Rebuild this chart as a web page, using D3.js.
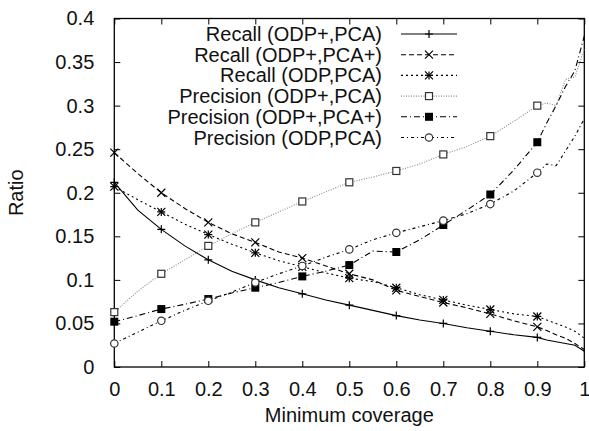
<!DOCTYPE html>
<html>
  <head>
    <style>
      body, html { margin: 0; padding: 0; background: #fff; }
      text { font-family: "Liberation Sans", Arial, sans-serif; fill: #111; }
    </style>
    <script src="https://d3js.org/d3.v7.min.js"></script>
    <title>coverage</title>
  </head>
  <body>
    <svg id="chart" width="589" height="431"></svg>
    <script>
      // minimum coverage values (x)
      var coverage = [0, 0.05, 0.1, 0.15, 0.2, 0.25, 0.3, 0.35, 0.4, 0.45, 0.5, 0.55,
        0.6, 0.65, 0.7, 0.75, 0.8, 0.85, 0.9, 0.92, 0.94, 0.96, 0.98, 1.0];

      var recallOdpPlusPca = [0.212, 0.180, 0.158, 0.139, 0.123, 0.110, 0.100, 0.091, 0.084, 0.077,
        0.071, 0.065, 0.059, 0.054, 0.050, 0.045, 0.041, 0.037, 0.034, 0.031, 0.029, 0.027, 0.025, 0.018];
      var recallOdpPlusPcaPlus = [0.246, 0.222, 0.200, 0.182, 0.166, 0.153, 0.143, 0.132, 0.125, 0.116,
        0.107, 0.100, 0.088, 0.081, 0.074, 0.068, 0.061, 0.053, 0.046, 0.042, 0.037, 0.033, 0.027, 0.020];
      var recallOdpPca = [0.207, 0.192, 0.178, 0.164, 0.152, 0.141, 0.131, 0.122, 0.115, 0.108,
        0.102, 0.098, 0.091, 0.083, 0.077, 0.071, 0.066, 0.061, 0.058, 0.054, 0.050, 0.046, 0.041, 0.033];
      var precOdpPlusPca = [0.063, 0.087, 0.107, 0.123, 0.139, 0.153, 0.166, 0.178, 0.190, 0.201,
        0.212, 0.218, 0.225, 0.233, 0.244, 0.253, 0.265, 0.282, 0.300, 0.303, 0.300, 0.330, 0.333, 0.365];
      var precOdpPlusPcaPlus = [0.052, 0.059, 0.0665, 0.072, 0.078, 0.085, 0.091, 0.097, 0.104, 0.110,
        0.117, 0.133, 0.132, 0.146, 0.163, 0.180, 0.198, 0.226, 0.258, 0.280, 0.300, 0.322, 0.340, 0.380];
      var precOdpPca = [0.027, 0.040, 0.053, 0.065, 0.076, 0.086, 0.097, 0.107, 0.116, 0.126,
        0.135, 0.146, 0.154, 0.161, 0.168, 0.176, 0.187, 0.202, 0.223, 0.233, 0.231, 0.248, 0.265, 0.285];

      var xTicks = [0, 0.1, 0.2, 0.3, 0.4, 0.5, 0.6, 0.7, 0.8, 0.9, 1];
      var yTicks = [0, 0.05, 0.1, 0.15, 0.2, 0.25, 0.3, 0.35, 0.4];

      var seriesNames = ["Recall (ODP+,PCA)", "Recall (ODP+,PCA+)", "Recall (ODP,PCA)",
        "Precision (ODP+,PCA)", "Precision (ODP+,PCA+)", "Precision (ODP,PCA)"];
      var seriesValues = [recallOdpPlusPca, recallOdpPlusPcaPlus, recallOdpPca,
        precOdpPlusPca, precOdpPlusPcaPlus, precOdpPca];

      // line styles, gnuplot-like
      var styles = [
        { dash: null, color: "#000", marker: "plus" },
        { dash: "5,3", color: "#000", marker: "cross" },
        { dash: "2,3", color: "#000", marker: "star" },
        { dash: "1,1.5", color: "#888", marker: "square" },
        { dash: "6,3,1,3", color: "#000", marker: "filled" },
        { dash: "3,3,1,3", color: "#000", marker: "circle" }
      ];

      var plotLeft = 114.3, plotRight = 584.3, plotTop = 18.5, plotBottom = 367;
      var fontSize = "20px";
      var svg = d3.select("#chart");

      var xScale = d3.scaleLinear().domain([0, 1]).range([plotLeft, plotRight]);
      var yScale = d3.scaleLinear().domain([0, 0.4]).range([plotBottom, plotTop]);

      // axes, ticks inward and mirrored
      function styleAxis(g) {
        g.select(".domain").remove();
        g.selectAll("line").attr("stroke", "#000").attr("stroke-width", 1);
        g.selectAll("text").style("font-size", fontSize).attr("fill", "#111");
      }
      svg.append("g")
        .attr("transform", "translate(0," + plotBottom + ")")
        .call(d3.axisBottom(xScale).tickValues(xTicks).tickSizeInner(-6).tickSizeOuter(0)
          .tickPadding(15).tickFormat(d3.format("")))
        .call(styleAxis);
      svg.append("g")
        .attr("transform", "translate(0," + plotTop + ")")
        .call(d3.axisTop(xScale).tickValues(xTicks).tickSizeInner(-6).tickSizeOuter(0)
          .tickFormat(""))
        .call(styleAxis);
      svg.append("g")
        .attr("transform", "translate(" + plotLeft + ",0)")
        .call(d3.axisLeft(yScale).tickValues(yTicks).tickSizeInner(-6).tickSizeOuter(0)
          .tickPadding(20).tickFormat(d3.format("")))
        .call(styleAxis);
      svg.append("g")
        .attr("transform", "translate(" + plotRight + ",0)")
        .call(d3.axisRight(yScale).tickValues(yTicks).tickSizeInner(-6).tickSizeOuter(0)
          .tickFormat(""))
        .call(styleAxis);

      svg.append("rect")
        .attr("x", plotLeft).attr("y", plotTop)
        .attr("width", plotRight - plotLeft).attr("height", plotBottom - plotTop)
        .attr("fill", "none").attr("stroke", "#000").attr("stroke-width", 1.3);

      svg.append("text")
        .attr("x", (plotLeft + plotRight) / 2).attr("y", 422)
        .attr("text-anchor", "middle")
        .style("font-size", fontSize)
        .text("Minimum coverage");
      svg.append("text")
        .attr("transform", "translate(23," + (plotTop + plotBottom) / 2 + ") rotate(-90)")
        .attr("text-anchor", "middle")
        .style("font-size", fontSize)
        .text("Ratio");

      function drawMarker(g, type, x, y, color) {
        var s = 4;
        if (type == "plus" || type == "star") {
          g.append("path").attr("d", "M" + (x - s) + "," + y + "H" + (x + s) + "M" + x + "," + (y - s) + "V" + (y + s))
            .attr("stroke", color).attr("stroke-width", 1.2);
        }
        if (type == "cross" || type == "star") {
          g.append("path").attr("d", "M" + (x - s) + "," + (y - s) + "L" + (x + s) + "," + (y + s) +
            "M" + (x - s) + "," + (y + s) + "L" + (x + s) + "," + (y - s))
            .attr("stroke", color).attr("stroke-width", 1.2);
        }
        if (type == "square") {
          g.append("rect").attr("x", x - 3.5).attr("y", y - 3.5).attr("width", 7).attr("height", 7)
            .attr("fill", "#fff").attr("stroke", "#333").attr("stroke-width", 1.2);
        }
        if (type == "filled") {
          g.append("rect").attr("x", x - 4).attr("y", y - 4).attr("width", 8).attr("height", 8)
            .attr("fill", "#000");
        }
        if (type == "circle") {
          g.append("circle").attr("cx", x).attr("cy", y).attr("r", 3.7)
            .attr("fill", "#fff").attr("stroke", "#333").attr("stroke-width", 1.2);
        }
      }

      var line = d3.line()
        .x(function (d) { return xScale(d[0]); })
        .y(function (d) { return yScale(d[1]); });

      seriesValues.forEach(function (vals, i) {
        var st = styles[i];
        var pts = coverage.map(function (c, j) { return [c, vals[j]]; });
        svg.append("path")
          .datum(pts)
          .attr("d", line)
          .attr("fill", "none")
          .attr("stroke", st.color)
          .attr("stroke-width", 1.1)
          .attr("stroke-dasharray", st.dash);
        var g = svg.append("g");
        pts.forEach(function (p) {
          var k = Math.round(p[0] * 100);
          if (k % 10 == 0 && k < 100) {
            drawMarker(g, st.marker, xScale(p[0]), yScale(p[1]), st.color);
          }
        });
      });

      // legend
      var legend = svg.append("g");
      seriesNames.forEach(function (name, i) {
        var y = 34 + i * 20.7;
        legend.append("text")
          .attr("x", 382).attr("y", y)
          .attr("dy", "0.35em")
          .attr("text-anchor", "end")
          .style("font-size", fontSize)
          .text(name);
        legend.append("line")
          .attr("x1", 401).attr("x2", 457)
          .attr("y1", y).attr("y2", y)
          .attr("stroke", styles[i].color)
          .attr("stroke-width", 1.1)
          .attr("stroke-dasharray", styles[i].dash);
        drawMarker(legend, styles[i].marker, 429, y, styles[i].color);
      });
    </script>
  </body>
</html>
